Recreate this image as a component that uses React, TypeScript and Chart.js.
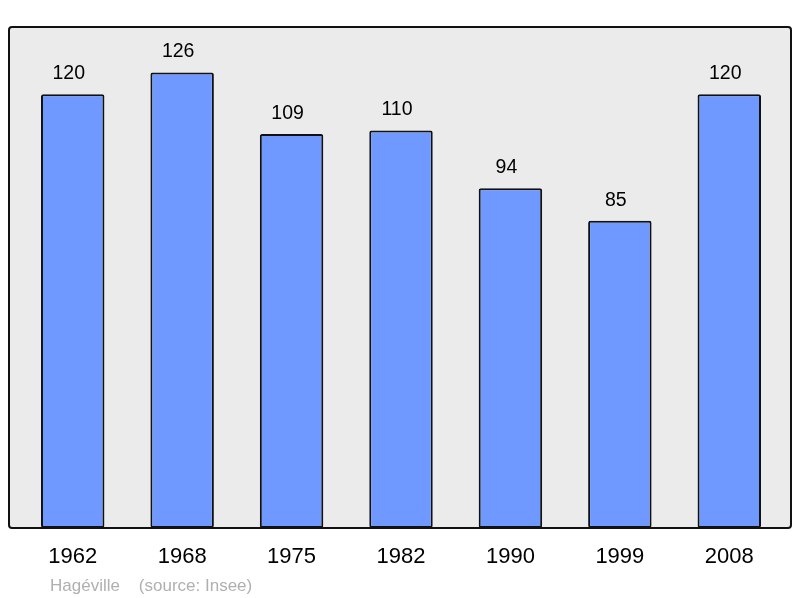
import React, { useEffect, useRef } from "react";
import { Chart, registerables } from "chart.js";

Chart.register(...registerables);

const years = ["1962", "1968", "1975", "1982", "1990", "1999", "2008"];
const population = [120, 126, 109, 110, 94, 85, 120];
const footerText = "Hagéville    (source: Insee)";
const FONT = "'Liberation Sans', Arial, sans-serif";

const panelPlugin = {
  id: "panel",
  beforeDatasetsDraw(chart: any) {
    const { ctx, chartArea } = chart;
    const l = chartArea.left - 9, r = chartArea.right + 7, t = chartArea.top, b = chartArea.bottom;
    ctx.save();
    ctx.beginPath();
    ctx.roundRect(l, t, r - l, b - t, 3);
    ctx.fillStyle = "#ebebeb";
    ctx.fill();
    ctx.restore();
  },
  afterDatasetsDraw(chart: any) {
    const { ctx, chartArea } = chart;
    const l = chartArea.left - 9, r = chartArea.right + 7, t = chartArea.top, b = chartArea.bottom;
    ctx.save();
    ctx.beginPath();
    ctx.roundRect(l, t, r - l, b - t, 3);
    ctx.lineWidth = 2;
    ctx.strokeStyle = "#111";
    ctx.stroke();
    // value labels
    const meta = chart.getDatasetMeta(0);
    ctx.fillStyle = "#000";
    ctx.font = `19.5px ${FONT}`;
    ctx.textAlign = "center";
    ctx.textBaseline = "middle";
    meta.data.forEach((bar: any, i: number) => {
      ctx.fillText(String(population[i]), bar.x - 4, bar.y - 20.5);
    });
    // footer
    ctx.fillStyle = "#b0b0b0";
    ctx.font = `17px ${FONT}`;
    ctx.textAlign = "left";
    ctx.fillText(footerText, chartArea.left + 32, 586);
    ctx.restore();
  },
};

export default function App() {
  const ref = useRef<HTMLCanvasElement>(null);
  useEffect(() => {
    document.body.style.margin = "0";
    const chart = new Chart(ref.current!, {
      type: "bar",
      data: {
        labels: years,
        datasets: [
          {
            data: population,
            backgroundColor: "#7099ff",
            borderColor: "#111",
            borderWidth: 2,
            borderRadius: 2,
            borderSkipped: false,
            barPercentage: 0.58,
            categoryPercentage: 1,
          },
        ],
      },
      options: {
        animation: false,
        responsive: false,
        maintainAspectRatio: false,
        layout: { padding: { left: 18, right: 16, top: 27, bottom: 0 } },
        plugins: { legend: { display: false }, tooltip: { enabled: false } },
        scales: {
          x: {
            grid: { display: false, drawTicks: false },
            border: { display: false },
            ticks: { color: "#000", font: { family: FONT, size: 22 }, padding: 16 },
            afterFit(scale: any) {
              scale.height = 70;
            },
          },
          y: { display: false, min: 0, max: 138.6 },
        },
      },
      plugins: [panelPlugin],
    });
    return () => chart.destroy();
  }, []);
  return (
    <div style={{ position: "absolute", left: 0, top: 0, width: 800, height: 598 }}>
      <canvas ref={ref} width={800} height={598} style={{ width: 800, height: 598 }} />
    </div>
  );
}
